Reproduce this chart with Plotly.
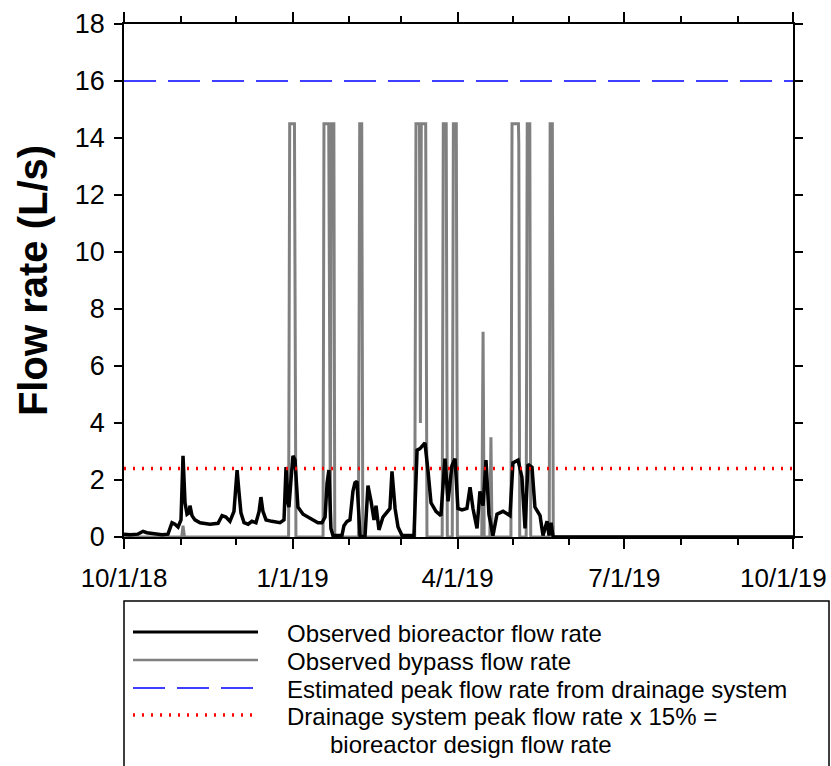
import pandas as pd
import plotly.graph_objects as go

START = pd.Timestamp("2018-10-01")

# Observed bioreactor flow rate (L/s); time as days since 10/1/18
bio_day = [0, 3.3, 7.6, 10.4, 12.5, 16.9, 20.7, 24.0, 26.2, 27.8, 29.5, 31.1, 32.2, 33.3,
           34.4, 35.5, 36.0, 37.1, 38.7, 41.5, 46.9, 51.3, 53.5, 55.6, 57.8, 60.0, 61.7,
           62.7, 63.8, 65.5, 67.7, 69.8, 72.0, 73.7, 74.7, 75.8, 77.5, 80.7, 85.1, 87.3,
           88.4, 89.5, 90.0, 91.1, 92.2, 93.3, 94.9, 97.7, 101.5, 105.8, 108.0, 109.7,
           110.8, 111.8, 112.9, 114.0, 118.9, 120.0, 121.7, 123.3, 124.9, 126.0, 127.1,
           128.2, 128.8, 131.5, 133.1, 134.8, 136.4, 137.5, 139.1, 141.3, 143.5, 145.1,
           146.2, 147.9, 149.5, 151.7, 158.2, 159.3, 159.9, 161.5, 164.2, 165.9, 167.5,
           170.2, 172.9, 175.1, 176.8, 178.9, 180.6, 182.2, 184.4, 187.1, 188.8, 190.4,
           192.6, 194.2, 195.9, 197.5, 199.1, 201.3, 203.5, 206.8, 210.6, 212.2, 215.0,
           217.1, 218.8, 220.4, 222.6, 224.2, 227.0, 228.6, 230.8, 231.9, 233.0, 234.1, 365]
bio_flow = [0.1, 0.08, 0.1, 0.2, 0.15, 0.12, 0.08, 0.1, 0.5, 0.45, 0.35, 0.6, 2.85, 1.2,
            0.8, 0.85, 1.1, 0.75, 0.6, 0.5, 0.45, 0.48, 0.75, 0.7, 0.55, 0.9, 2.35,
            1.6, 0.85, 0.5, 0.45, 0.55, 0.5, 0.9, 1.4, 0.9, 0.6, 0.55, 0.5, 0.6,
            2.45, 1.2, 1.05, 2.0, 2.85, 2.7, 1.05, 0.8, 0.65, 0.5, 0.5, 0.7,
            1.9, 2.35, 0.3, 0.05, 0.05, 0.4, 0.55, 0.6, 1.6, 1.9, 1.95,
            0.5, 0.02, 0.02, 1.8, 1.25, 0.6, 1.1, 0.25, 0.7, 0.9, 1.0,
            2.3, 1.0, 0.35, 0.05, 0.05, 2.0, 3.05, 3.1, 3.3, 2.3, 1.2,
            0.9, 0.75, 2.75, 1.25, 2.5, 2.75, 1.0, 0.95, 1.0, 1.75, 1.0,
            0.3, 1.6, 1.1, 2.7, 0.8, 0.05, 0.8, 0.9, 0.75, 2.6, 2.7,
            2.1, 0.3, 2.55, 2.45, 1.05, 0.75, 0.05, 0.55, 0.05, 0.5, 0.0, 0.0]

# Observed bypass flow rate (L/s)
byp_day = [0, 31.5, 32.2, 33.0, 89.8, 90.4, 93.0, 93.8, 108.6, 109.1, 111.7, 112.3, 112.6,
           113.1, 114.5, 115.0, 127.9, 128.6, 129.7, 130.3, 158.6, 159.3, 161.2, 161.7,
           162.2, 164.6, 165.3, 173.6, 174.2, 175.8, 176.4, 179.1, 179.7, 181.3, 181.9,
           195.2, 195.9, 196.5, 199.6, 200.2, 200.8, 211.1, 211.7, 215.2, 215.4, 215.9,
           219.4, 220.0, 221.4, 221.9, 232.0, 232.5, 233.7, 234.2, 365]
byp_flow = [0, 0, 0.4, 0, 0, 14.5, 14.5, 0, 0, 14.5, 14.5, 0.6, 0.6,
            14.5, 14.5, 0, 0, 14.5, 14.5, 0, 0, 14.5, 14.5, 4.0,
            14.5, 14.5, 0, 0, 14.5, 14.5, 0, 0, 14.5, 14.5, 0,
            0, 7.2, 0, 0, 3.5, 0, 0, 14.5, 14.5, 13.8, 0,
            0, 14.5, 14.5, 0, 0, 14.5, 14.5, 0, 0]

peak_flow = 16.0            # estimated peak flow rate from drainage system
design_flow = 16.0 * 0.15   # bioreactor design flow rate

x_range = ["2018-10-01", "2019-10-01"]
x_tickvals = ["2018-10-01", "2019-01-01", "2019-04-01", "2019-07-01", "2019-10-01"]
x_ticktext = ["10/1/18", "1/1/19", "4/1/19", "7/1/19", "10/1/19"]
y_ticks = list(range(0, 19, 2))

legend_labels = [
    "Observed bioreactor flow rate",
    "Observed bypass flow rate",
    "Estimated peak flow rate from drainage system",
    "Drainage system peak flow rate x 15% =",
]
legend_label_2nd = "bioreactor design flow rate"

FONT = "Liberation Sans, Arial, sans-serif"

bio_x = [START + pd.Timedelta(days=d) for d in bio_day]
byp_x = [START + pd.Timedelta(days=d) for d in byp_day]

fig = go.Figure()
fig.add_trace(go.Scatter(x=byp_x, y=byp_flow, mode="lines",
                         line=dict(color="#808080", width=3), name=legend_labels[1]))
fig.add_trace(go.Scatter(x=bio_x, y=bio_flow, mode="lines",
                         line=dict(color="black", width=3.5), name=legend_labels[0]))
fig.add_trace(go.Scatter(x=x_range, y=[peak_flow, peak_flow], mode="lines",
                         line=dict(color="#0000FF", width=1.5, dash="32px,12px"),
                         name=legend_labels[2]))
fig.add_trace(go.Scatter(x=x_range, y=[design_flow, design_flow], mode="lines",
                         line=dict(color="#FF0000", width=3.5, dash="2px,7px"),
                         name=legend_labels[3]))

fig.update_layout(
    width=831, height=766,
    margin=dict(l=124, r=38, t=24, b=229, autoexpand=False),
    plot_bgcolor="white", paper_bgcolor="white",
    showlegend=False,
    font=dict(family=FONT, color="black", size=20),
)
# last date label is placed as an annotation so it stays inside the page
fig.update_xaxes(
    range=x_range, type="date", automargin=False,
    tickvals=x_tickvals, ticktext=x_ticktext[:-1] + [""],
    ticks="outside", ticklen=10, tickwidth=1.5, tickcolor="black",
    minor=dict(dtick="M1", tick0="2018-10-01", ticks="outside", ticklen=6,
               tickwidth=1.5, tickcolor="black", showgrid=False),
    showline=True, linecolor="black", linewidth=1.5, mirror="allticks",
    showgrid=False, zeroline=False,
    tickfont=dict(size=26), ticklabelstandoff=7, ticklabeloverflow="allow",
)
fig.update_yaxes(
    range=[0, 18], tickvals=y_ticks, automargin=False,
    ticks="outside", ticklen=8, tickwidth=1.5, tickcolor="black",
    showline=True, linecolor="black", linewidth=1.5, mirror="allticks",
    showgrid=False, zeroline=False,
    tickfont=dict(size=27), ticklabelstandoff=4, ticklabeloverflow="allow",
    title=dict(text="<b>Flow rate (L/s)</b>", font=dict(size=40), standoff=15),
)

# Legend box drawn below the plot
py0 = 537.0
ph = 513.0
pw = 669.0
def px2x(p):
    return (p - 124) / pw
def py2y(p):
    return (py0 - p) / ph

fig.add_annotation(xref="x", yref="paper", x=x_tickvals[-1], y=py2y(578),
                   text=x_ticktext[-1], showarrow=False, xanchor="right",
                   yanchor="middle", xshift=36, font=dict(size=26, family=FONT))

fig.add_shape(type="rect", xref="paper", yref="paper",
              x0=px2x(124), x1=px2x(829), y0=py2y(601), y1=py2y(780),
              line=dict(color="black", width=1.5), fillcolor="white", layer="above")
styles = [
    dict(color="black", width=3),
    dict(color="#808080", width=2.5),
    dict(color="#0000FF", width=1.5, dash="32px,12px"),
    dict(color="#FF0000", width=3.5, dash="2px,7px"),
]
row_y = [632, 660, 688, 715]
for lab, st, ry in zip(legend_labels, styles, row_y):
    fig.add_shape(type="line", xref="paper", yref="paper",
                  x0=px2x(133), x1=px2x(258), y0=py2y(ry), y1=py2y(ry), line=st)
    fig.add_annotation(xref="paper", yref="paper", x=px2x(285), y=py2y(ry + 1),
                       text=lab, showarrow=False, xanchor="left", yanchor="middle",
                       font=dict(size=24, family=FONT))
fig.add_annotation(xref="paper", yref="paper", x=px2x(328), y=py2y(744),
                   text=legend_label_2nd, showarrow=False, xanchor="left",
                   yanchor="middle", font=dict(size=24, family=FONT))

fig.write_html("out.html")
